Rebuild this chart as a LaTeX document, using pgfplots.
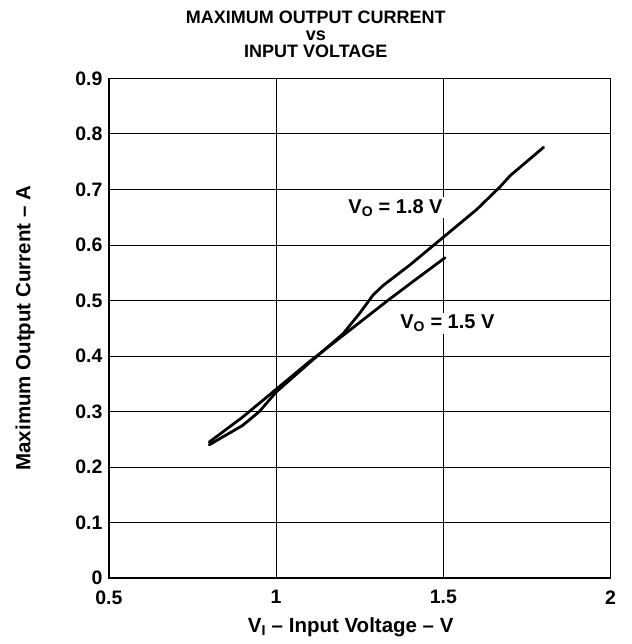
\documentclass[border=0pt]{standalone}
\usepackage{pgfplots}
\pgfplotsset{compat=1.18}
\usepackage{fontspec}
\setmainfont{Liberation Sans}
\begin{document}
\begin{tikzpicture}
\begin{axis}[
  name=ax,
  at={(0,0)}, anchor=south west,
  scale only axis,
  width=502bp, height=500bp,
  xmin=0.5, xmax=2, ymin=0, ymax=0.9,
  xtick={0.5,1,1.5,2},
  ytick={0,0.1,0.2,0.3,0.4,0.5,0.6,0.7,0.8,0.9},
  yticklabels={0,0.1,0.2,0.3,0.4,0.5,0.6,0.7,0.8,0.9},
  xticklabels={0.5,1,1.5,2},
  grid=major,
  grid style={black, line width=0.9bp},
  axis line style={line width=1.8bp},
  major tick length=0pt,
  tick style={draw=none},
  ticklabel style={font=\fontsize{19.5bp}{21bp}\selectfont\bfseries},
  xticklabel style={yshift=-9bp},
  yticklabel style={xshift=-3bp},
  /pgf/number format/assume math mode=true,
  xlabel={V\textsubscript{I} -- Input Voltage -- V},
  ylabel={Maximum Output Current -- A},
  label style={font=\fontsize{20.5bp}{22bp}\selectfont\bfseries},
  xlabel style={at={(axis description cs:0.482,-0.098)}, anchor=center},
  ylabel style={at={(axis description cs:-0.167,0.5)}, anchor=center},
]
\addplot[black, line width=2.8bp, line join=round, line cap=round] coordinates {
(0.8,0.24) (0.9,0.275) (0.95,0.30) (1.0,0.335) (1.1,0.388) (1.15,0.414) (1.2,0.44)
(1.25,0.477) (1.29,0.51) (1.32,0.527) (1.4,0.564) (1.5,0.614) (1.6,0.664)
(1.67,0.705) (1.7,0.725) (1.8,0.776)};
\addplot[black, line width=2.8bp, line join=round, line cap=round] coordinates {
(0.8,0.245) (0.9,0.29) (0.95,0.315) (1.0,0.34) (1.1,0.39) (1.2,0.437)
(1.336,0.501) (1.4,0.53) (1.505,0.577)};
\node[fill=white, inner sep=2bp, font=\fontsize{20bp}{22bp}\selectfont\bfseries] at (axis cs:1.357,0.667) {V\textsubscript{O} = 1.8 V};
\node[fill=white, inner sep=2bp, font=\fontsize{20bp}{22bp}\selectfont\bfseries] at (axis cs:1.512,0.459) {V\textsubscript{O} = 1.5 V};
\end{axis}
\node[align=center, inner sep=0pt, font=\fontsize{18bp}{16.8bp}\selectfont\bfseries, anchor=north] at ([shift={(-44bp,67.5bp)}]ax.north) {MAXIMUM OUTPUT CURRENT\\vs\\INPUT VOLTAGE};
\pgfresetboundingbox
\path[use as bounding box] ([shift={(-109bp,-66bp)}]ax.south west) rectangle ([shift={(21bp,78.5bp)}]ax.north east);
\end{tikzpicture}
\end{document}
